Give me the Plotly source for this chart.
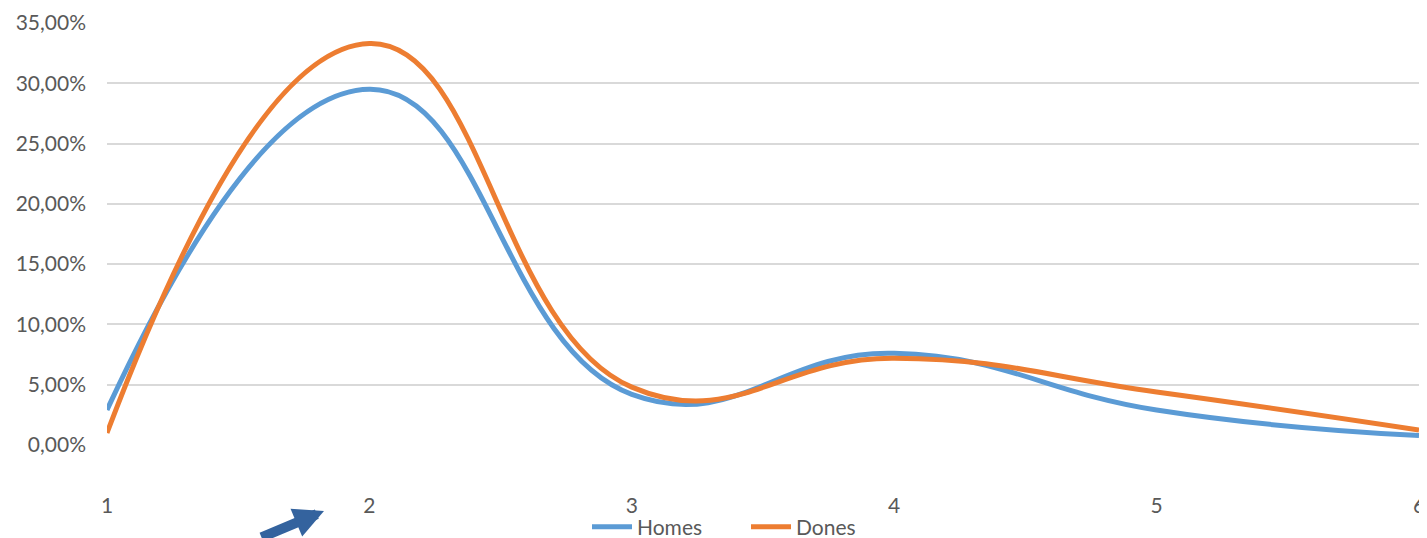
import plotly.graph_objects as go

categories = [1, 2, 3, 4, 5, 6]
homes = [0.029, 0.295, 0.042, 0.076, 0.029, 0.0078]
dones = [0.010, 0.333, 0.048, 0.072, 0.044, 0.0125]
y_ticks = [0, 0.05, 0.10, 0.15, 0.20, 0.25, 0.30, 0.35]

# page is drawn with an 8px body offset, so the figure is 8px smaller and all
# pixel positions are shifted by -8
W, H = 1419, 530
L, R, T, B = 99, 8, 15, 93
PH = H - T - B  # plot height

fig = go.Figure()
fig.add_trace(go.Scatter(x=categories, y=homes, name="Homes", mode="lines",
                         line=dict(color="#5B9BD5", width=5, shape="spline", smoothing=1.3)))
fig.add_trace(go.Scatter(x=categories, y=dones, name="Dones", mode="lines",
                         line=dict(color="#ED7D31", width=5, shape="spline", smoothing=1.3)))

fig.update_layout(
    width=W, height=H,
    margin=dict(l=L, r=R, t=T, b=B),
    paper_bgcolor="white", plot_bgcolor="white",
    separators=", ",
    font=dict(family="Lato", size=21, color="#595959"),
    showlegend=True,
    legend=dict(orientation="h", xref="container", x=579 / W, xanchor="left",
                yref="container", y=1 - 519 / H, yanchor="middle",
                font=dict(size=21, color="#595959"), itemwidth=40,
                entrywidth=104, entrywidthmode="pixels",
                traceorder="normal", bgcolor="rgba(0,0,0,0)"),
    xaxis=dict(range=[1, 6], tickvals=categories, showgrid=False, zeroline=False,
               showline=False, ticks="", ticklabelstandoff=46, automargin=False,
               tickfont=dict(size=21, color="#595959")),
    yaxis=dict(range=[0, 0.35], tickvals=y_ticks, tickformat=".2%", showgrid=True,
               gridcolor="#D9D9D9", gridwidth=2, zeroline=False, showline=False,
               ticks="", ticklabelstandoff=20, automargin=False,
               tickfont=dict(size=21, color="#595959")),
    annotations=[dict(x=(316 - L) / (W - L - R), y=(T + PH - 503) / PH, xref="paper", yref="paper",
                      ax=-64, ay=32, showarrow=True, arrowhead=2, arrowsize=0.6,
                      arrowwidth=10, arrowcolor="#34639E", text="")],
)

fig.write_html("out.html")
